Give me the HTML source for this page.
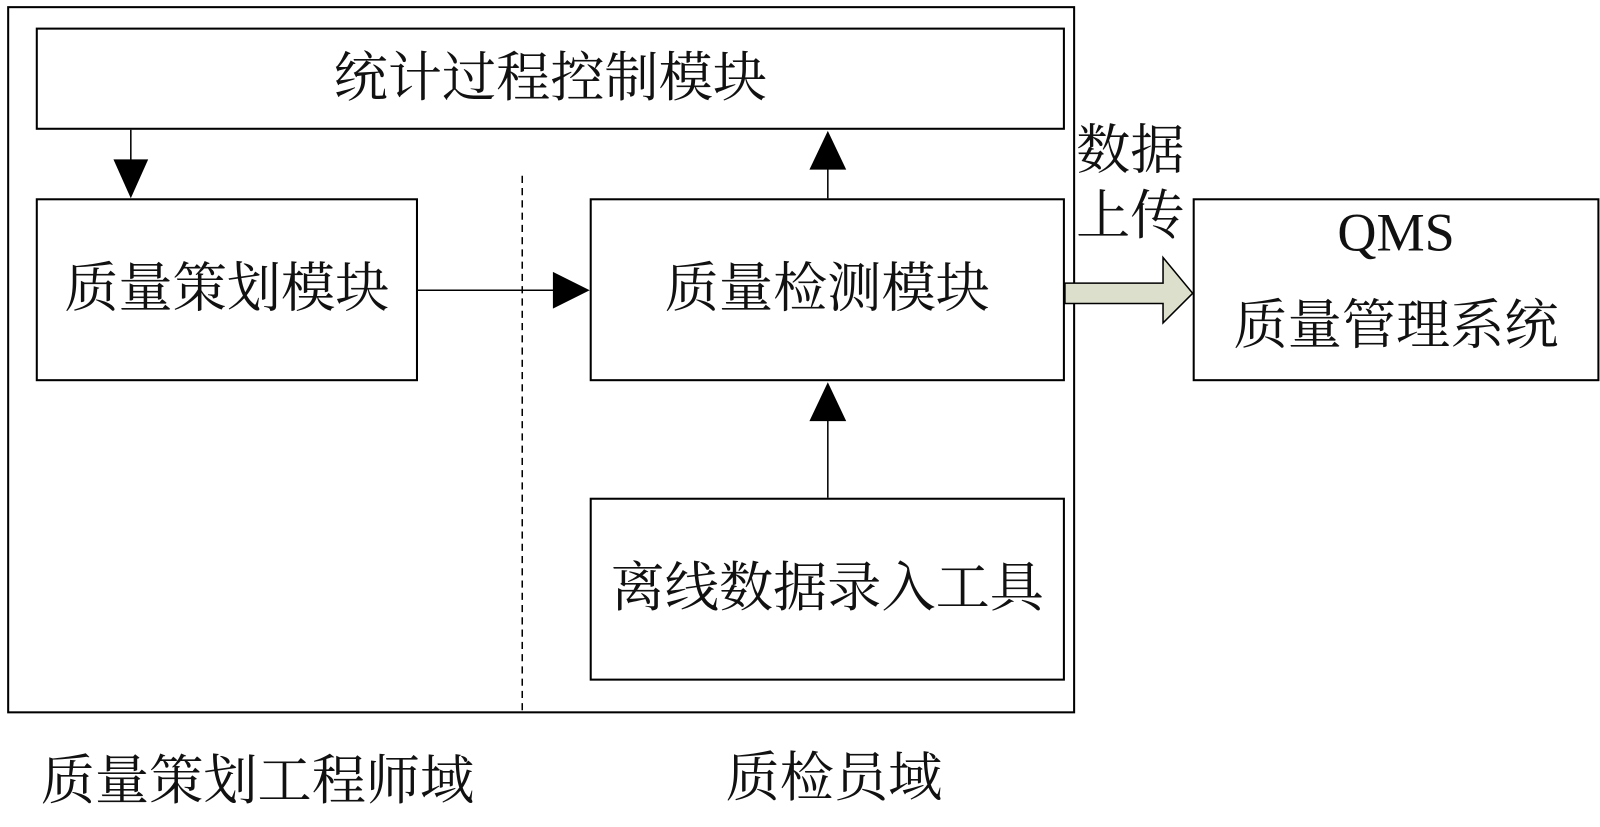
<!DOCTYPE html>
<html><head><meta charset="utf-8"><style>
html,body{margin:0;padding:0;background:#fff;}
body{width:1600px;height:809px;position:relative;overflow:hidden;font-family:"Liberation Serif","Noto Serif CJK SC","Noto Sans CJK SC",serif;}
#w{position:absolute;left:0;top:0;width:1600px;height:809px;transform:scale(1.022);transform-origin:0 0;}
.b{position:absolute;border:2px solid #000;box-sizing:border-box;display:flex;align-items:center;justify-content:center;text-align:center;font-size:53px;line-height:1.15;color:#111;}
.t{position:absolute;font-size:53px;color:#111;white-space:nowrap;}
</style></head><body><div id="w">
<div class="b" style="left:7px;top:6px;width:1045px;height:692px;"></div>
<div class="b" style="left:35px;top:27px;width:1007px;height:100px">统计过程控制模块</div>
<div class="b" style="left:35px;top:194px;width:374px;height:179px">质量策划模块</div>
<div class="b" style="left:577px;top:194px;width:465px;height:179px">质量检测模块</div>
<div class="b" style="left:577px;top:487px;width:465px;height:179px">离线数据录入工具</div>
<div class="b" style="left:1167px;top:194px;width:398px;height:179px;line-height:1.7;padding-bottom:20px">QMS<br>质量管理系统</div>
<svg style="position:absolute;left:0;top:0" width="1600" height="809">
<line x1="511" y1="172" x2="511" y2="698" stroke="#000" stroke-width="1.5" stroke-dasharray="7,5"/>
<line x1="128" y1="127" x2="128" y2="160" stroke="#000" stroke-width="1.5"/>
<polygon points="111,156 145,156 128,194" fill="#000"/>
<line x1="409" y1="284" x2="545" y2="284" stroke="#000" stroke-width="1.5"/>
<polygon points="541,266 577,284 541,302" fill="#000"/>
<line x1="810" y1="194" x2="810" y2="165" stroke="#000" stroke-width="1.5"/>
<polygon points="792,166 828,166 810,128" fill="#000"/>
<line x1="810" y1="487" x2="810" y2="410" stroke="#000" stroke-width="1.5"/>
<polygon points="792,412 828,412 810,374" fill="#000"/>
<polygon points="1042,277 1138,277 1138,252 1167,287 1138,316 1138,297 1042,297" fill="#dcdfcc" stroke="#000" stroke-width="1.5"/>
</svg>
<div class="t" style="left:1053px;top:116px;line-height:64px">数据<br>上传</div>
<div class="t" style="left:40px;top:722px">质量策划工程师域</div>
<div class="t" style="left:710px;top:719px">质检员域</div>
</div></body></html>
